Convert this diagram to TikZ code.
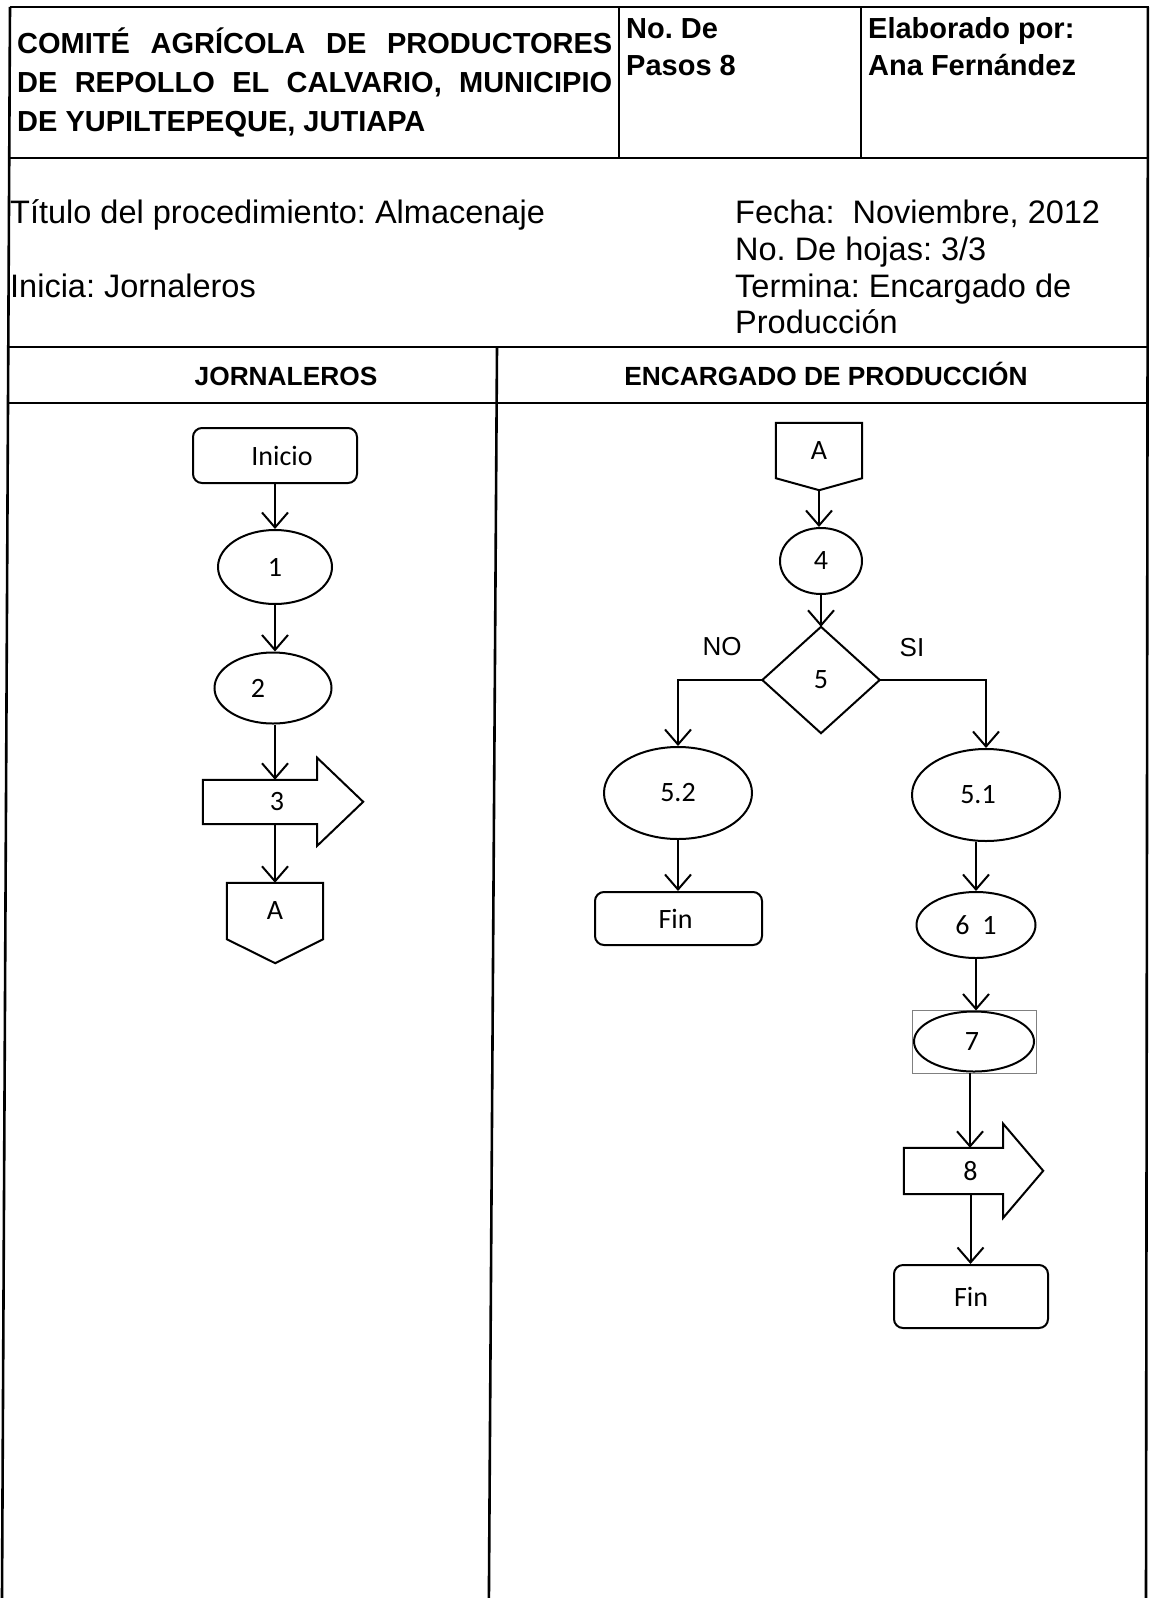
\documentclass[tikz,border=0pt]{standalone}
\usepackage{fontspec}
\setmainfont{Liberation Sans}
\newfontfamily\calfont{Carlito}
\usetikzlibrary{arrows.meta,shapes.geometric}
\newcommand\shiftlbl[2]{\hspace*{#1}#2\hspace*{-#1}}
\frenchspacing
\begin{document}
\begin{tikzpicture}[x=1pt,y=-1pt,
  frame/.style={line width=2.6pt},
  shp/.style={draw, line width=2pt},
  lbl/.style={font=\calfont\fontsize{28pt}{32pt}\selectfont, inner sep=0pt},
  roundbox/.style={shp, lbl, rectangle, rounded corners=9pt},
  oval/.style={shp, lbl, ellipse},
  plainbox/.style={lbl, rectangle},
  arr/.style={line width=2pt, -{Straight Barb[length=15pt,width=26pt,line width=2pt]}},
  hd/.style={font=\bfseries\fontsize{29pt}{34pt}\selectfont, inner sep=0pt, anchor=base west},
  tx/.style={font=\fontsize{32.5pt}{37pt}\selectfont, inner sep=0pt, anchor=base west},
  lh/.style={font=\bfseries\fontsize{26.3pt}{30pt}\selectfont, inner sep=0pt, anchor=base},
  yn/.style={font=\fontsize{26pt}{30pt}\selectfont, inner sep=0pt}
]
\useasboundingbox (0,0) rectangle (1149,1598);
\clip (0,0) rectangle (1149,1598);

% ---------- table frame ----------
\draw[frame] (10,7) -- (1149,7);
\draw[frame] (9,158) -- (1149,158);
\draw[frame] (8,347) -- (1149,347);
\draw[frame] (8,403) -- (1149,403);
\draw[frame] (10,7) -- (2,1598);
\draw[frame] (1148,7) -- (1146,1598);
\draw[frame] (619,7) -- (619,158);
\draw[frame] (861,7) -- (861,158);
\draw[frame] (497,347) -- (488.9,1598);

% ---------- header ----------
\node[hd] (t1) at (17,53) {\makebox[595pt][s]{COMITÉ AGRÍCOLA DE PRODUCTORES}};
\node[hd] (t2) at (17,92) {\makebox[595pt][s]{DE REPOLLO EL CALVARIO, MUNICIPIO}};
\node[hd] (t3) at (17,131) {DE YUPILTEPEQUE, JUTIAPA};
\node[hd] (p1) at (626,38) {No. De};
\node[hd] (p2) at (626,75) {Pasos 8};
\node[hd] (e1t) at (868,38) {Elaborado por:};
\node[hd] (e2t) at (868,75) {Ana Fernández};

\node[tx] (tit) at (10,223) {Título del procedimiento: Almacenaje};
\node[tx] (ini-t) at (10,297) {Inicia: Jornaleros};
\node[tx] (fec) at (735,223) {Fecha:\ \ Noviembre, 2012};
\node[tx] (hoj) at (735,260) {No. De hojas: 3/3};
\node[tx] (ter) at (735,297) {Termina: Encargado de};
\node[tx] (pro) at (735,333) {Producción};

\node[lh] (lane1) at (286,385) {JORNALEROS};
\node[lh] (lane2) at (826,385) {ENCARGADO DE PRODUCCIÓN};

% ---------- left lane ----------
\node[roundbox, minimum width=164pt, minimum height=55pt] (ini) at (275,455.5) {\shiftlbl{7pt}{Inicio}};
\node[oval, minimum width=114pt, minimum height=74pt] (o1) at (275,567) {1};
\node[oval, minimum width=117pt, minimum height=71pt] (o2) at (273,688) {\shiftlbl{-15pt}{2}};
\node[plainbox, minimum width=114pt, minimum height=44pt] (n3) at (260,802) {\shiftlbl{17pt}{3}};
\draw[shp] (n3.north west) -- (n3.north east) -- ++(0,-22) -- ++(46,44) -- ++(-46,44) -- (n3.south east) -- (n3.south west) -- cycle;
\node[plainbox, minimum width=96pt, minimum height=56pt] (Al) at (275,911) {A};
\draw[shp] (Al.south west) -- (Al.north west) -- (Al.north east) -- (Al.south east) -- ++(-48,24) -- cycle;

\draw[arr] (ini.south) -- (o1.north);
\draw[arr] (o1.south) -- (o2.north -| o1.south);
\draw[arr] (o2.south -| ini.south) -- (n3.north -| ini.south);
\draw[arr] (n3.south -| Al.north) -- (Al.north);

% ---------- right lane ----------
\node[plainbox, minimum width=86pt, minimum height=55pt] (Ar) at (819,450.5) {A};
\draw[shp] (Ar.south west) -- (Ar.north west) -- (Ar.north east) -- (Ar.south east) -- ++(-43,12) -- cycle;
\coordinate (Arp) at ([yshift=-12pt]Ar.south);
\node[oval, minimum width=82pt, minimum height=66pt] (o4) at (821,561) {4};
\node[plainbox, minimum width=117pt, minimum height=106pt] (d5) at (821,680) {5};
\draw[shp] (d5.north) -- (d5.east) -- (d5.south) -- (d5.west) -- cycle;
\node[yn] (no) at (722,647) {NO};
\node[yn] (si) at (912,648) {SI};

\node[oval, minimum width=148pt, minimum height=92pt] (o52) at (678,793) {5.2};
\node[roundbox, minimum width=167pt, minimum height=53pt] (fin1) at (678.5,918.5) {\shiftlbl{-3pt}{Fin}};
\node[oval, minimum width=148pt, minimum height=92pt] (o51) at (986,795) {\shiftlbl{-8pt}{5.1}};
\node[oval, minimum width=119pt, minimum height=66pt] (o61) at (976,925) {6~~1};
\node[plainbox, draw=gray, line width=0.9pt, minimum width=124pt, minimum height=63pt] (r7) at (974,1041.5) {\shiftlbl{-2pt}{7}};
\node[shp, ellipse, minimum width=120pt, minimum height=60pt, inner sep=0pt] (o7) at (r7.center) {};
\node[plainbox, minimum width=99pt, minimum height=46pt] (n8) at (953.5,1171) {\shiftlbl{17pt}{8}};
\draw[shp] (n8.north west) -- (n8.north east) -- ++(0,-24) -- ++(40,47) -- ++(-40,47) -- (n8.south east) -- (n8.south west) -- cycle;
\node[roundbox, minimum width=154pt, minimum height=63pt] (fin2) at (971,1296.5) {Fin};

\draw[arr] (Arp) -- (Arp |- o4.north);
\draw[arr] (o4.south) -- (d5.north);
\draw[arr] (d5.west) -- (d5.west -| o52.north) -- (o52.north);
\draw[arr] (d5.east) -- (d5.east -| o51.north) -- (o51.north);
\draw[arr] (o52.south) -- (o52.south |- fin1.north);
\draw[arr] (o51.south -| o61.north) -- (o61.north);
\draw[arr] (o61.south) -- (o61.south |- o7.north);
\draw[arr] ([xshift=-4pt]o7.south) -- ([xshift=-4pt]o7.south |- n8.north);
\draw[arr] ([xshift=17pt]n8.south) -- ([xshift=17pt]n8.south |- fin2.north);
\end{tikzpicture}
\end{document}
